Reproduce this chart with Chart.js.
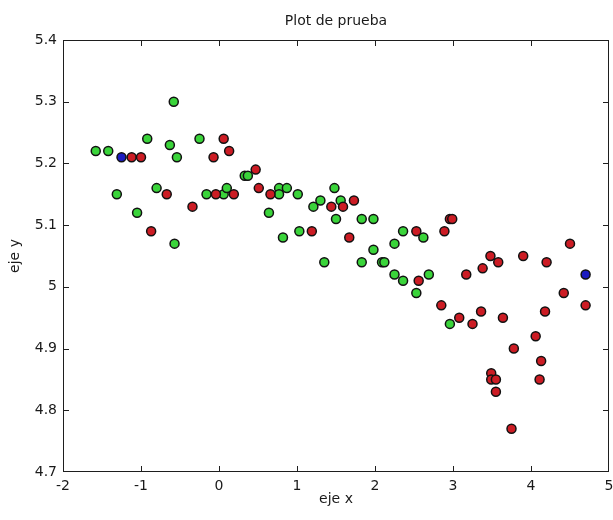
<!DOCTYPE html>
<html>
<head>
<meta charset="utf-8">
<title>Plot de prueba</title>
<script src="https://cdn.jsdelivr.net/npm/chart.js@4.4.0/dist/chart.umd.min.js"></script>
<style>
    html, body { margin: 0; padding: 0; background: #fff; }
</style>
</head>
<body>
<canvas id="plot" width="613" height="520"></canvas>
<script>
// values
const greenX = [-1.58, -1.42, -0.92, -1.31, -1.05, -0.58, -0.63, -0.54, -0.80, -0.57,
    -0.25, -0.16, 0.06, 0.10, 0.33, 0.37, 0.77, 0.77, 0.87, 0.64,
    0.82, 1.01, 1.03, 1.21, 1.30, 1.48, 1.50, 1.35, 1.56, 1.83,
    1.98, 1.83, 1.98, 2.09, 2.12, 2.25, 2.36, 2.62, 2.25, 2.36,
    2.69, 2.53, 2.96];
const greenY = [5.22, 5.22, 5.24, 5.15, 5.12, 5.30, 5.23, 5.21, 5.16, 5.07,
    5.24, 5.15, 5.15, 5.16, 5.18, 5.18, 5.16, 5.15, 5.16, 5.12,
    5.08, 5.15, 5.09, 5.13, 5.14, 5.16, 5.11, 5.04, 5.14, 5.11,
    5.11, 5.04, 5.06, 5.04, 5.04, 5.07, 5.09, 5.08, 5.02, 5.01,
    5.02, 4.99, 4.94];

const redX = [-1.12, -1.00, -0.87, -0.67, -0.34, -0.07, -0.04, 0.06, 0.13, 0.19,
    0.47, 0.51, 0.66, 1.19, 1.44, 1.59, 1.73, 1.67, 2.53, 2.56,
    2.89, 2.96, 2.99, 2.85, 3.08, 3.25, 3.36, 3.17, 3.38, 3.48,
    3.58, 3.64, 3.90, 4.20, 4.50, 4.42, 4.70, 4.18, 4.06, 3.78,
    4.13, 4.11, 3.49, 3.49, 3.55, 3.55, 3.75];
const redY = [5.21, 5.21, 5.09, 5.15, 5.13, 5.21, 5.15, 5.24, 5.22, 5.15,
    5.19, 5.16, 5.15, 5.09, 5.13, 5.13, 5.14, 5.08, 5.09, 5.01,
    5.09, 5.11, 5.11, 4.97, 4.95, 4.94, 4.96, 5.02, 5.03, 5.05,
    5.04, 4.95, 5.05, 5.04, 5.07, 4.99, 4.97, 4.96, 4.92, 4.90,
    4.88, 4.85, 4.86, 4.85, 4.85, 4.83, 4.77];

const blueX = [-1.25, 4.70];
const blueY = [5.21, 5.02];

const xTicks = [-2, -1, 0, 1, 2, 3, 4, 5];
const xTickLabels = ['-2', '-1', '0', '1', '2', '3', '4', '5'];
const yTicks = [4.7, 4.8, 4.9, 5.0, 5.1, 5.2, 5.3, 5.4];
const yTickLabels = ['4.7', '4.8', '4.9', '5', '5.1', '5.2', '5.3', '5.4'];

const fontFamily = "'DejaVu Sans', sans-serif";
const textColor = '#1a1a1a';
const lineColor = '#1e1e1e';

function toPoints(xs, ys) {
    return xs.map((x, i) => ({ x: x, y: ys[i] }));
}

function markerSet(label, xs, ys, fill) {
    return {
        label: label,
        data: toPoints(xs, ys),
        showLine: false,
        pointRadius: 4.5,
        pointHoverRadius: 4.5,
        pointBackgroundColor: fill,
        pointBorderColor: '#111111',
        pointBorderWidth: 1.5
    };
}

// box around the axes, ticks pointing inwards on all four sides
const boxTicks = {
    id: 'boxTicks',
    afterDatasetsDraw(chart) {
        const { ctx, chartArea: area, scales } = chart;
        const len = 5;
        const x0 = Math.round(area.left);
        const x1 = Math.round(area.right) - 1;
        const y0 = Math.round(area.top);
        const y1 = Math.round(area.bottom) - 1;
        const clamp = (v, lo, hi) => Math.min(hi, Math.max(lo, v));
        ctx.save();
        ctx.fillStyle = lineColor;
        // frame
        ctx.fillRect(x0, y0, x1 - x0 + 1, 1);
        ctx.fillRect(x0, y1, x1 - x0 + 1, 1);
        ctx.fillRect(x0, y0, 1, y1 - y0 + 1);
        ctx.fillRect(x1, y0, 1, y1 - y0 + 1);
        for (let i = 0; i < xTicks.length; i++) {
            const px = clamp(Math.round(scales.x.getPixelForValue(xTicks[i])), x0, x1);
            ctx.fillRect(px, y1 - len, 1, len);
            ctx.fillRect(px, y0 + 1, 1, len);
        }
        for (let i = 0; i < yTicks.length; i++) {
            const py = clamp(Math.round(scales.y.getPixelForValue(yTicks[i])), y0, y1);
            ctx.fillRect(x0 + 1, py, len, 1);
            ctx.fillRect(x1 - len, py, len, 1);
        }
        ctx.restore();
    }
};

const chart = new Chart(document.getElementById('plot').getContext('2d'), {
    type: 'scatter',
    data: {
        datasets: [
            markerSet('blue', blueX, blueY, '#1c1cc0'),
            markerSet('red', redX, redY, '#cc1c24'),
            markerSet('green', greenX, greenY, '#3ad43a')
        ]
    },
    options: {
        responsive: false,
        animation: false,
        events: [],
        layout: {
            autoPadding: false,
            padding: { left: 0, right: 4, top: 0, bottom: 0 }
        },
        plugins: {
            legend: { display: false },
            tooltip: { enabled: false },
            title: {
                display: true,
                fullSize: false,  // centre it over the plot box, not the canvas
                text: 'Plot de prueba',
                color: textColor,
                font: { family: fontFamily, size: 14, weight: 'normal' },
                padding: { top: 12.6, bottom: 10.6 }
            }
        },
        scales: {
            x: {
                type: 'linear',
                position: 'bottom',
                min: -2,
                max: 5,
                grid: { display: false, drawTicks: false },
                border: { display: false },
                afterBuildTicks: s => { s.ticks = xTicks.map(v => ({ value: v })); },
                afterFit: s => {
                    s.height = 48;
                    s.paddingLeft = 0;
                    s.paddingRight = 0;
                },
                ticks: {
                    padding: 5.6,
                    color: textColor,
                    font: { family: fontFamily, size: 14 },
                    maxRotation: 0,
                    autoSkip: false,
                    callback: v => xTickLabels[xTicks.indexOf(v)]
                },
                title: {
                    display: true,
                    text: 'eje x',
                    color: textColor,
                    font: { family: fontFamily, size: 14 },
                    padding: { top: 0, bottom: 12.6 }
                }
            },
            y: {
                type: 'linear',
                position: 'left',
                min: 4.7,
                max: 5.4,
                grid: { display: false, drawTicks: false },
                border: { display: false },
                afterBuildTicks: s => { s.ticks = yTicks.map(v => ({ value: v })); },
                afterFit: s => {
                    s.width = 63;
                    s.paddingTop = 0;
                    s.paddingBottom = 0;
                },
                ticks: {
                    padding: 6,
                    color: textColor,
                    font: { family: fontFamily, size: 14 },
                    autoSkip: false,
                    callback: v => yTickLabels[yTicks.indexOf(v)]
                },
                title: {
                    display: true,
                    text: 'eje y',
                    color: textColor,
                    font: { family: fontFamily, size: 14 },
                    padding: { top: 7, bottom: 0 }
                }
            }
        }
    },
    plugins: [boxTicks]
});
</script>
</body>
</html>
